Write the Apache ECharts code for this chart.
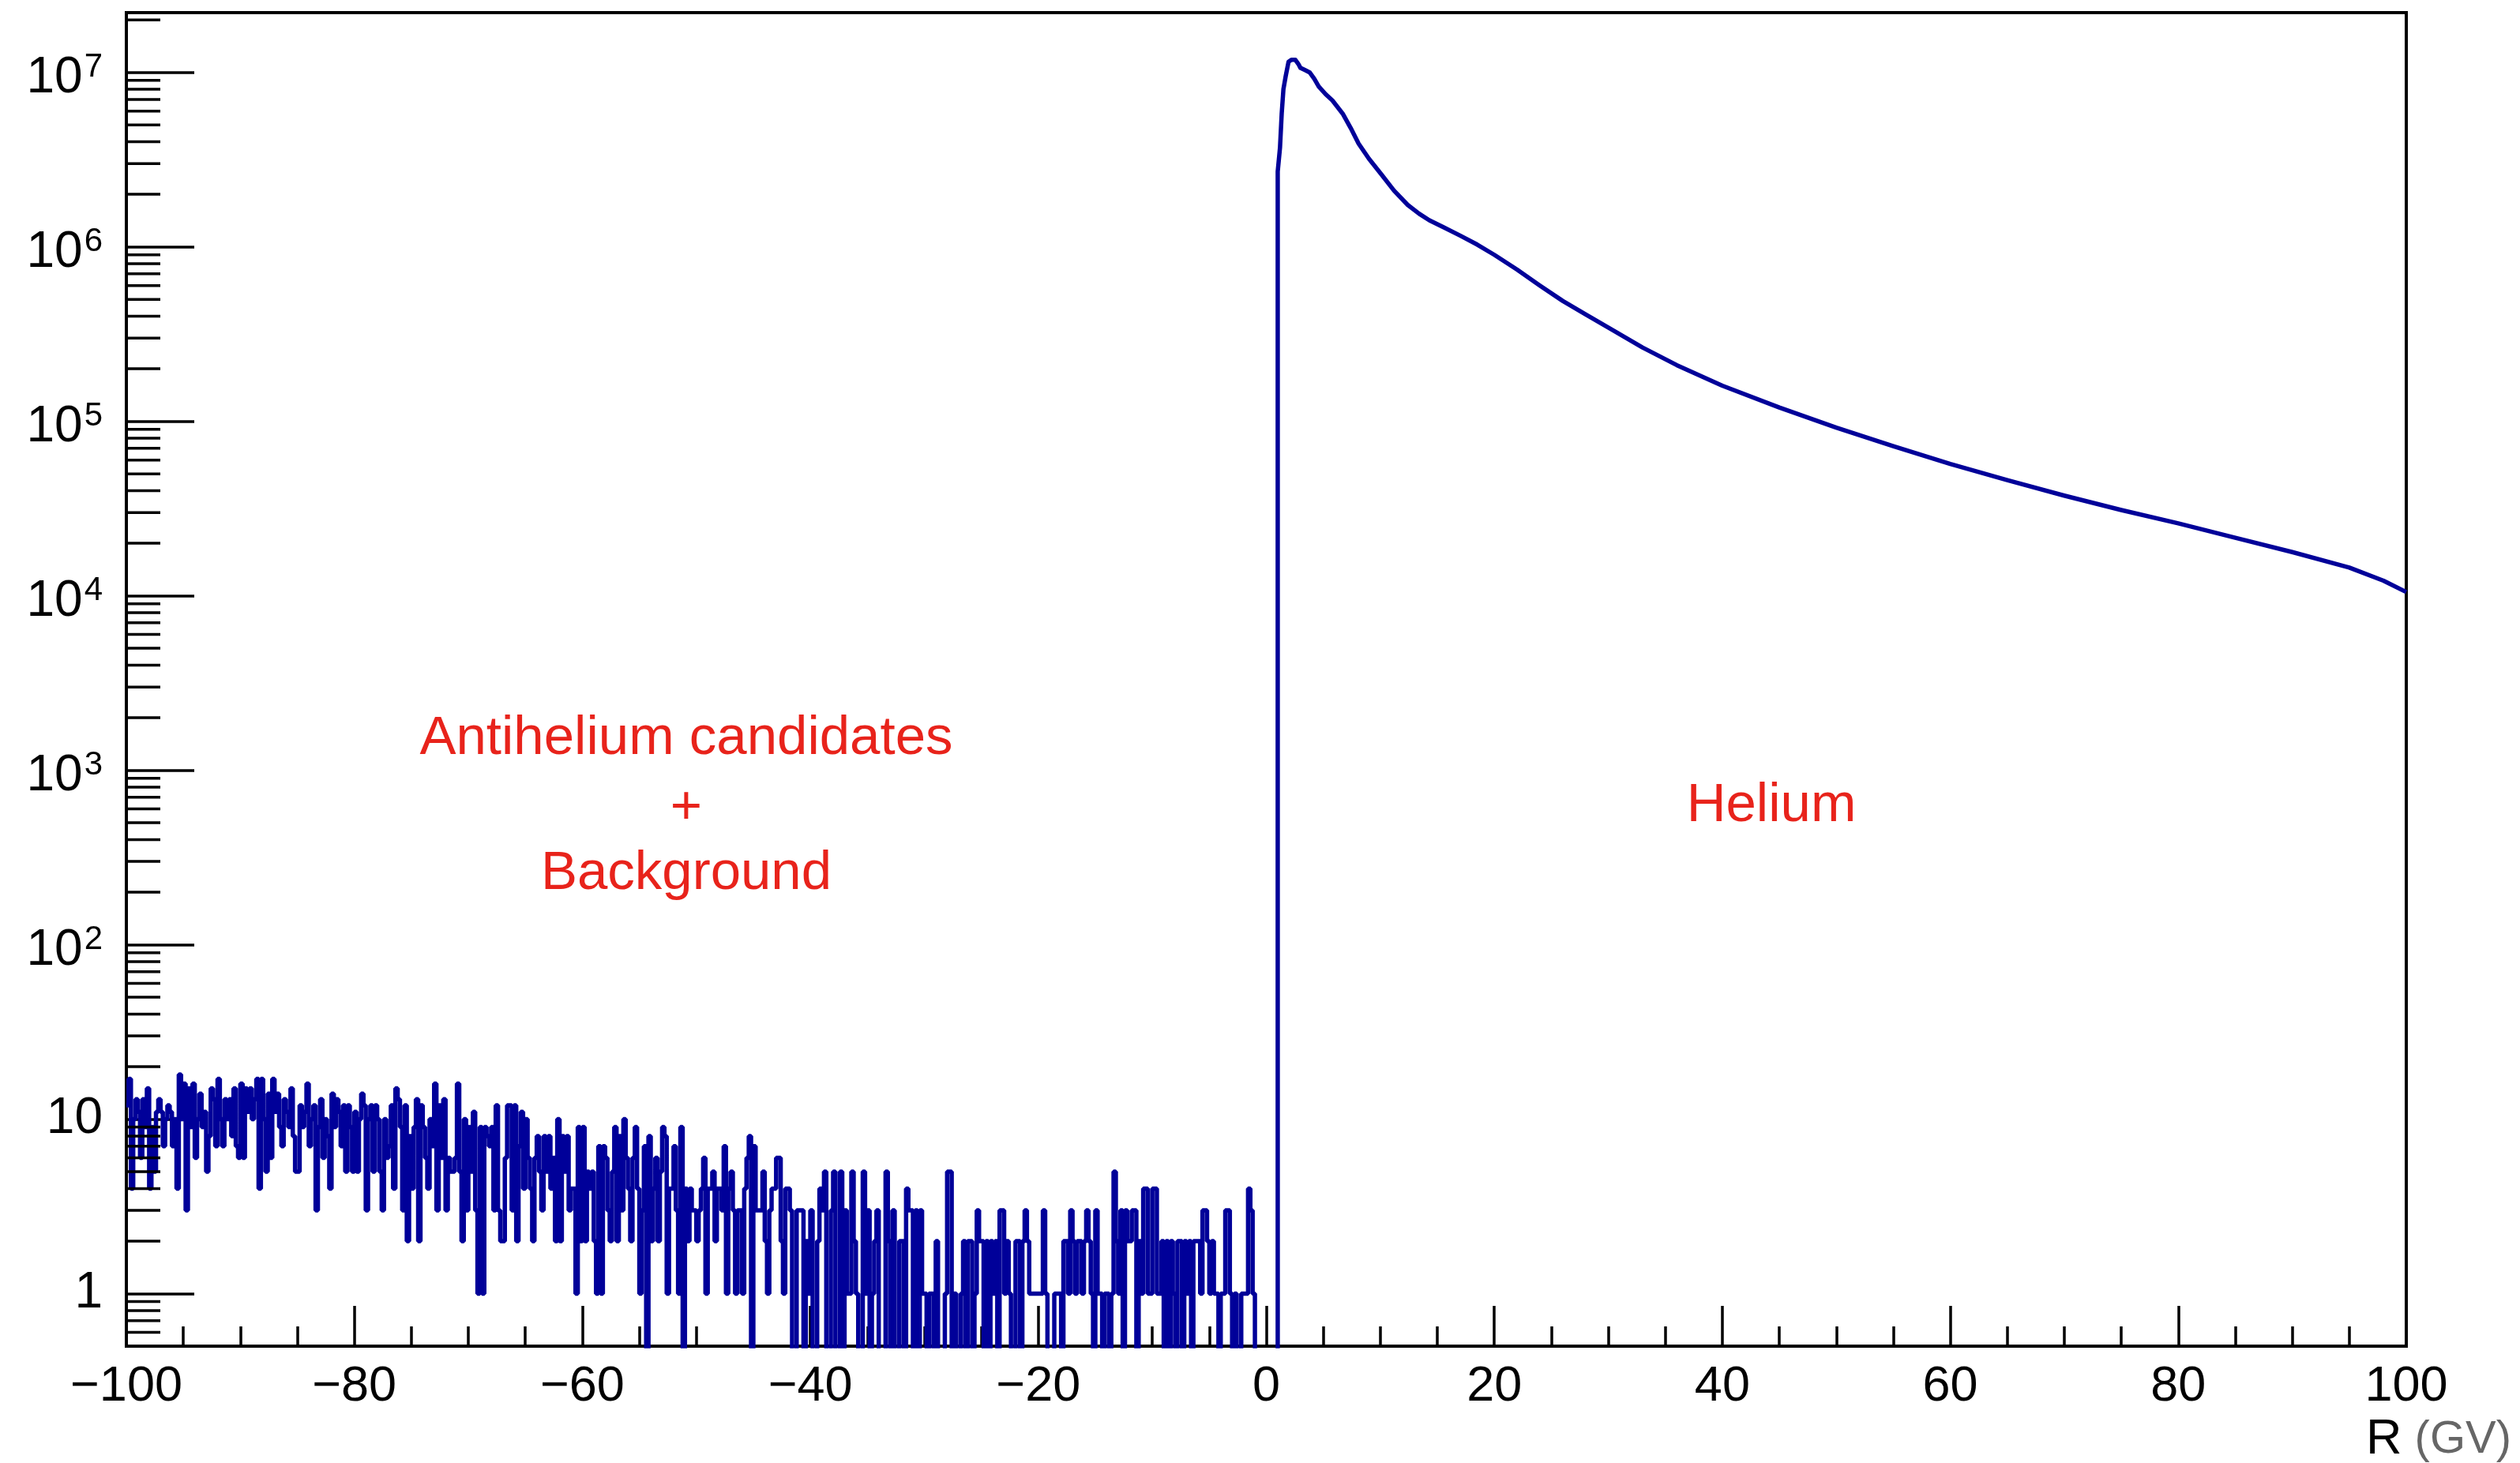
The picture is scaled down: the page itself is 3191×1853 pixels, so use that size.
<!DOCTYPE html>
<html><head><meta charset="utf-8">
<script src="https://cdn.jsdelivr.net/npm/echarts@6/dist/echarts.min.js"></script>
<style>html,body{margin:0;padding:0;background:#fff;}#c{width:3191px;height:1853px;}</style>
</head><body><div id="c"></div>
<script>
// ---------- data ----------
const binWidth = 0.2;          // GV per histogram bin
const bgStart = -100;          // left edge of first background bin
// counts per 0.2 GV bin, R = -100 .. -80
const bgCountsA = [12,17,4,10,13,11,6,13,9,15, 4,9,5,11,13,11,7,10,12,11, 7,10,4,18,10,16,3,15,9,16, 6,10,14,9,11,5,8,15,13,7,
  17,10,7,13,10,13,8,15,7,6, 16,6,15,11,15,10,13,17,4,17, 10,5,14,6,17,11,14,9,7,13, 11,9,15,8,5,5,12,9,11,16,
  7,10,12,3,9,13,6,10,8,4, 14,9,13,11,7,12,5,12,9,5];
// R = -80 .. -60
const bgCountsB = [11,5,10,14,12,3,10,12,5,12, 10,5,3,10,6,7,12,4,15,13, 9,3,12,2,8,4,9,13,2,12, 9,6,4,10,7,16,3,12,6,13,
  3,6,5,5,6,16,5,2,10,3, 9,5,11,3,1,9,1,9,8,7, 9,3,12,3,2,2,6,12,12,3, 12,2,7,11,4,10,6,4,2,6,
  8,5,3,8,5,8,4,6,2,10, 2,8,5,8,3,4,4,1,9,2];
// R = -60 .. -40
const bgCountsC = [9,2,5,4,5,2,1,7,1,7, 6,3,2,5,9,2,8,3,10,6, 4,2,6,9,4,1,3,7,0,8, 2,4,6,2,5,9,8,1,4,4,
  7,3,1,9,0,4,2,4,3,3, 2,3,4,6,1,4,4,5,2,4, 4,3,7,1,4,5,3,1,3,3, 1,4,6,8,0,7,3,3,3,5,
  2,1,3,4,4,6,6,2,1,4, 4,3,0,0,3,3,3,0,2,1];
// R = -40 .. -20
const bgCountsD = [3,0,0,2,4,3,5,0,0,3, 5,0,0,5,0,3,1,1,5,2, 1,0,0,5,1,3,0,1,2,3, 0,0,0,5,2,0,3,0,0,2,
  2,0,4,3,3,0,3,0,3,1, 1,0,1,1,0,2,0,0,0,1, 5,5,0,1,0,0,1,2,0,2, 2,0,1,3,2,2,0,2,0,2,
  1,2,0,3,3,1,2,1,0,0, 2,2,0,2,3,2,1,1,1,1];
// R = -20 .. 0
const bgCountsE = [1,1,3,1,0,0,0,1,1,1, 0,2,2,1,3,2,1,2,2,1, 2,3,2,1,0,3,1,1,0,1, 1,0,1,5,2,1,3,0,3,2,
  2,3,3,0,2,1,4,4,1,1, 4,4,1,1,2,0,2,0,2,1, 0,2,2,0,2,1,2,0,2,2, 2,1,3,3,2,1,2,1,1,0,
  1,1,3,3,1,0,1,0,0,1, 1,1,4,3,1,0,0,0,0,0];
// R = 0 .. 1
const bgCountsF = [0,0,0,0,0];

// Helium peak: rigidity (GV) and counts
const heliumR = [1.0, 1.0, 1.2, 1.35, 1.5, 1.7, 1.95, 2.2, 2.55, 2.8, 3.0, 3.4, 3.8, 4.2, 4.6, 5.2, 5.8, 6.7, 7.4, 8.1,
  9.0, 10.1, 11.2, 12.4, 13.4, 14.3, 15.5, 17, 18.5, 20, 22, 24, 26, 28, 30, 33, 36, 40, 45, 50,
  55, 60, 65, 70, 75, 80, 85, 90, 95, 98, 100];
const heliumCounts = [0, 2.7e6, 3.7e6, 5.8e6, 8.0e6, 9.5e6, 1.15e7, 1.18e7, 1.18e7, 1.12e7, 1.06e7, 1.03e7, 1.0e7, 9.2e6, 8.3e6, 7.5e6, 6.9e6, 5.8e6, 4.8e6, 3.9e6,
  3.2e6, 2.6e6, 2.1e6, 1.74e6, 1.55e6, 1.42e6, 1.3e6, 1.16e6, 1.03e6, 9.0e5, 7.4e5, 6.0e5, 4.9e5, 4.1e5, 3.45e5, 2.65e5, 2.1e5, 1.6e5, 1.2e5, 9.2e4,
  7.2e4, 5.7e4, 4.6e4, 3.75e4, 3.1e4, 2.6e4, 2.15e4, 1.78e4, 1.45e4, 1.22e4, 1.05e4];

// axis ticks
const xMin = -100, xMax = 100, xStep = 20;
const yMin = 0.5, yMax = 2.2e7;
const yMinorMultipliers = [2,3,4,5,6,7,8,9];
const yDecades = [0.1, 1, 10, 100, 1e3, 1e4, 1e5, 1e6, 1e7];

// annotation texts
const textLeft = ['Antihelium candidates', '+', 'Background'];
const textRight = 'Helium';
const axisTitle = ['R', '(GV)'];

// ---------- build ----------
const ZERO_FLOOR = 0.05; // empty bins drop below the log-axis floor
const bgCounts = [].concat(bgCountsA, bgCountsB, bgCountsC, bgCountsD, bgCountsE, bgCountsF);
const bgData = bgCounts.map((c, i) => [Math.round((bgStart + i * binWidth) * 10) / 10, c > 0 ? c : ZERO_FLOOR]);
bgData.push([Math.round((bgStart + bgCounts.length * binWidth) * 10) / 10, ZERO_FLOOR]);
const heData = heliumR.map((r, i) => [r, heliumCounts[i] > 0 ? heliumCounts[i] : ZERO_FLOOR]);

const minorVals = [];
yDecades.forEach(d => yMinorMultipliers.forEach(m => { const v = d * m; if (v > yMin && v < yMax) minorVals.push([xMin, v]); }));

const FONT = 'Liberation Sans, Arial, Helvetica, sans-serif';
const LINE = '#000099';
const RED = '#e8231b';

const chart = echarts.init(document.getElementById('c'), null, {renderer: 'canvas'});
chart.setOption({
  animation: false,
  backgroundColor: '#fff',
  grid: {left: 160, right: 144, top: 16, bottom: 148, show: true, borderColor: '#000', borderWidth: 4, backgroundColor: 'transparent'},
  xAxis: {
    type: 'value', min: xMin, max: xMax, interval: xStep,
    axisLine: {show: true, onZero: false, lineStyle: {color: '#000', width: 4}},
    axisTick: {show: true, inside: true, length: 51, lineStyle: {color: '#000', width: 3.5}},
    minorTick: {show: true, splitNumber: 4, length: 25, lineStyle: {color: '#000', width: 3.5}},
    splitLine: {show: false}, minorSplitLine: {show: false},
    axisLabel: {fontSize: 63, fontFamily: FONT, color: '#000', margin: 20,
      formatter: v => String(v).replace('-', '\u2212')}
  },
  yAxis: {
    type: 'log', logBase: 10, min: yMin, max: yMax, splitNumber: 8,
    axisLine: {show: true, onZero: false, lineStyle: {color: '#000', width: 4}},
    axisTick: {show: true, inside: true, length: 86, lineStyle: {color: '#000', width: 3.5}},
    splitLine: {show: false},
    axisLabel: {
      fontSize: 64, fontFamily: FONT, color: '#000', margin: 30, showMinLabel: false, showMaxLabel: false,
      formatter: v => {
        const l = Math.log10(v), e = Math.round(l);
        if (Math.abs(l - e) > 1e-6) return '';
        if (e === 0) return '1';
        if (e === 1) return '10';
        return '{b|10}{s|' + e + '}';
      },
      rich: {
        b: {fontSize: 64, fontFamily: FONT, color: '#000', lineHeight: 64, padding: [16, 0, 0, 0]},
        s: {fontSize: 42, fontFamily: FONT, color: '#000', lineHeight: 42, verticalAlign: 'top', padding: [5, 0, 0, 2]}
      }
    }
  },
  series: [
    {type: 'line', data: bgData, step: 'end', symbol: 'none', clip: true,
      lineStyle: {color: LINE, width: 5.5}, itemStyle: {color: LINE}, z: 3},
    {type: 'line', data: heData, symbol: 'none', clip: true, smooth: false,
      lineStyle: {color: LINE, width: 5.5, join: 'round'}, itemStyle: {color: LINE}, z: 3},
    {type: 'custom', data: minorVals, encode: {x: 0, y: 1}, silent: true, z: 4,
      renderItem: (params, api) => {
        const p = api.coord([api.value(0), api.value(1)]);
        return {type: 'line', shape: {x1: p[0], y1: p[1], x2: p[0] + 43, y2: p[1]},
          style: {stroke: '#000', lineWidth: 3.5}};
      }}
  ],
  graphic: [
    {type: 'text', x: 869, y: 936, style: {text: textLeft[0], fontSize: 69, fontFamily: FONT, fill: RED, align: 'center', verticalAlign: 'middle', textAlign: 'center', textVerticalAlign: 'middle'}},
    {type: 'text', x: 869, y: 1024, style: {text: textLeft[1], fontSize: 69, fontFamily: FONT, fill: RED, align: 'center', verticalAlign: 'middle', textAlign: 'center', textVerticalAlign: 'middle'}},
    {type: 'text', x: 869, y: 1107, style: {text: textLeft[2], fontSize: 69, fontFamily: FONT, fill: RED, align: 'center', verticalAlign: 'middle', textAlign: 'center', textVerticalAlign: 'middle'}},
    {type: 'text', x: 2243, y: 1021, style: {text: textRight, fontSize: 69, fontFamily: FONT, fill: RED, align: 'center', verticalAlign: 'middle', textAlign: 'center', textVerticalAlign: 'middle'}},
    {type: 'text', x: 3180, y: 1824, style: {text: '{r|' + axisTitle[0] + '}{g|\u00a0' + axisTitle[1] + '}', align: 'right', verticalAlign: 'middle', textAlign: 'right', textVerticalAlign: 'middle',
      rich: {r: {fontSize: 63, fontFamily: FONT, fill: '#000', color: '#000'}, g: {fontSize: 58, fontFamily: FONT, fill: '#666', color: '#666'}}}}
  ]
});
</script></body></html>
